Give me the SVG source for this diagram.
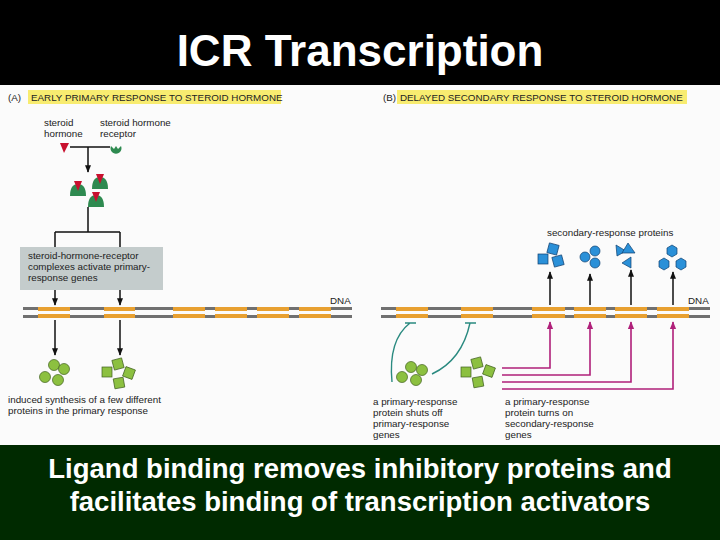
<svg xmlns="http://www.w3.org/2000/svg" width="720" height="540" viewBox="0 0 720 540">
<defs>
<style>
.t{font-family:"Liberation Sans",Arial,sans-serif;font-size:9.8px;fill:#222}
.h{font-family:"Liberation Sans",Arial,sans-serif;font-size:9.8px;fill:#222}
.w{font-family:"Liberation Sans",Arial,sans-serif;fill:#fff;font-weight:bold}
.g{fill:#e8a030}
.strand{fill:#707070}
.bk{stroke:#111;stroke-width:1.5;fill:none}
.mg{stroke:#b0207a;stroke-width:1.6;fill:none}
.tl{stroke:#2a8a80;stroke-width:1.4;fill:none}
.gc{fill:#8cc040;stroke:#406020;stroke-width:0.7}
.bc{fill:#2a90d8;stroke:#104070;stroke-width:0.7}
</style>
<marker id="a" viewBox="0 0 10 10" refX="9" refY="5" markerWidth="5" markerHeight="5" orient="auto"><path d="M0,1 L10,5 L0,9z" fill="#111"/></marker>
<marker id="m" viewBox="0 0 10 10" refX="9" refY="5" markerWidth="5" markerHeight="5" orient="auto"><path d="M0,1 L10,5 L0,9z" fill="#b0207a"/></marker>
</defs>
<rect width="720" height="540" fill="#000"/>
<rect y="445" width="720" height="95" fill="#002a00"/>
<rect x="0" y="85" width="720" height="360" fill="#fbfbfb"/>
<text class="w" x="360" y="66" font-size="44" text-anchor="middle">ICR Transcription</text>
<text class="w" x="360" y="478" font-size="27.5" text-anchor="middle" font-weight="normal" style="font-weight:600">Ligand binding removes inhibitory proteins and</text>
<text class="w" x="360" y="511" font-size="27.5" text-anchor="middle" style="font-weight:600">facilitates binding of transcription activators</text>

<g id="panelA">
<text class="h" x="8" y="101">(A)</text>
<rect x="28" y="90" width="253" height="14" fill="#f8ec70"/>
<text class="h" x="31" y="101">EARLY PRIMARY RESPONSE TO STEROID HORMONE</text>
<text class="t" x="44" y="126">steroid</text><text class="t" x="44" y="137">hormone</text>
<text class="t" x="100" y="126">steroid hormone</text><text class="t" x="100" y="137">receptor</text>
<path d="M60,143 L69,143 L64,153z" fill="#c8102e"/>
<path d="M111,146 a5.5,5.5 0 1 0 10,0 l-3,3 l-2,-3 l-2,3z" fill="#2e8a50"/>
<g id="complexes">
<path d="M70,196 q0,-12 8,-12 q8,0 8,12z" fill="#2e8a50"/><path d="M74,181 L82,181 L78,191z" fill="#c8102e"/>
<path d="M92,189 q0,-12 8,-12 q8,0 8,12z" fill="#2e8a50"/><path d="M96,174 L104,174 L100,184z" fill="#c8102e"/>
<path d="M88,207 q0,-12 8,-12 q8,0 8,12z" fill="#2e8a50"/><path d="M92,192 L100,192 L96,202z" fill="#c8102e"/>
</g>
<rect x="20" y="247" width="143" height="43" fill="#c4cccc"/>
<text class="t" x="28" y="259">steroid-hormone-receptor</text>
<text class="t" x="28" y="270">complexes activate primary-</text>
<text class="t" x="28" y="281">response genes</text>
<g id="greenA">
<circle class="gc" cx="54" cy="365" r="5.5"/><circle class="gc" cx="64" cy="369" r="5.5"/><circle class="gc" cx="45" cy="377" r="5.5"/><circle class="gc" cx="58" cy="380" r="5.5"/>
<rect class="gc" x="102" y="367" width="10" height="10"/><rect class="gc" x="113" y="359" width="10" height="10" transform="rotate(-15 118 364)"/><rect class="gc" x="124" y="368" width="10" height="10" transform="rotate(20 129 373)"/><rect class="gc" x="114" y="378" width="10" height="10" transform="rotate(-10 119 383)"/>
</g>
<text class="t" x="8" y="403">induced synthesis of a few different</text>
<text class="t" x="8" y="414">proteins in the primary response</text>
</g>

<g id="panelB">
<text class="h" x="383" y="101">(B)</text>
<rect x="397" y="90" width="290" height="14" fill="#f8ec70"/>
<text class="h" x="400" y="101">DELAYED SECONDARY RESPONSE TO STEROID HORMONE</text>
<text class="t" x="547" y="236">secondary-response proteins</text>
<g id="blue">
<rect class="bc" x="538" y="254" width="10" height="10"/><rect class="bc" x="548" y="244" width="10" height="10" transform="rotate(15 553 249)"/><rect class="bc" x="553" y="256" width="10" height="10" transform="rotate(-15 558 261)"/>
<circle class="bc" cx="585" cy="257" r="5"/><circle class="bc" cx="595" cy="251" r="5"/><circle class="bc" cx="595" cy="263" r="5"/>
<path class="bc" d="M616,245 L626,251 L617,256z"/><path class="bc" d="M628,243 L635,253 L622,253z"/><path class="bc" d="M631,257 L631,268 L622,263z"/>
<polygon class="bc" points="672,245 677,248 677,254 672,257 667,254 667,248"/>
<polygon class="bc" points="664,258 669,261 669,267 664,270 659,267 659,261"/>
<polygon class="bc" points="681,258 686,261 686,267 681,270 676,267 676,261"/>
</g>
<g id="greenB">
<circle class="gc" cx="411" cy="367" r="5.5"/><circle class="gc" cx="422" cy="370" r="5.5"/><circle class="gc" cx="402" cy="377" r="5.5"/><circle class="gc" cx="416" cy="380" r="5.5"/>
<rect class="gc" x="461" y="367" width="10" height="10"/><rect class="gc" x="472" y="358" width="10" height="10" transform="rotate(-15 477 363)"/><rect class="gc" x="484" y="366" width="10" height="10" transform="rotate(20 489 371)"/><rect class="gc" x="473" y="377" width="10" height="10" transform="rotate(-10 478 382)"/>
</g>
<text class="t" x="373" y="405">a primary-response</text><text class="t" x="373" y="416">protein shuts off</text><text class="t" x="373" y="427">primary-response</text><text class="t" x="373" y="438">genes</text>
<text class="t" x="505" y="405">a primary-response</text><text class="t" x="505" y="416">protein turns on</text><text class="t" x="505" y="427">secondary-response</text><text class="t" x="505" y="438">genes</text>
</g>

<g id="dna">
<rect class="strand" x="23" y="307" width="329" height="3"/><rect class="strand" x="23" y="315" width="329" height="3"/>
<rect class="strand" x="381" y="307" width="329" height="3"/><rect class="strand" x="381" y="315" width="329" height="3"/>
<g class="g">
<rect x="38" y="307" width="32" height="11"/><rect x="104" y="307" width="31" height="11"/><rect x="173" y="307" width="32" height="11"/><rect x="215" y="307" width="32" height="11"/><rect x="257" y="307" width="32" height="11"/><rect x="299" y="307" width="32" height="11"/>
<rect x="396" y="307" width="32" height="11"/><rect x="461" y="307" width="32" height="11"/><rect x="532" y="307" width="33" height="11"/><rect x="574" y="307" width="32" height="11"/><rect x="615" y="307" width="32" height="11"/><rect x="657" y="307" width="32" height="11"/>
</g>
<rect x="23" y="311" width="329" height="3" fill="#fbfbfb"/>
<rect x="381" y="311" width="329" height="3" fill="#fbfbfb"/>
<text class="t" x="330" y="304">DNA</text><text class="t" x="688" y="304">DNA</text>
</g>

<g id="connectors">
<path class="bk" d="M70,147 H110"/>
<path class="bk" d="M88,147 V172" marker-end="url(#a)"/>
<path class="bk" d="M88,207 V232 M55,232 H120 M55,232 V247 M120,232 V247"/>
<path class="bk" d="M55,290 V305" marker-end="url(#a)"/>
<path class="bk" d="M120,290 V305" marker-end="url(#a)"/>
<path class="bk" d="M55,320 V355" marker-end="url(#a)"/>
<path class="bk" d="M120,320 V355" marker-end="url(#a)"/>
<path class="bk" d="M550,305 V272" marker-end="url(#a)"/>
<path class="bk" d="M590,305 V274" marker-end="url(#a)"/>
<path class="bk" d="M631,305 V270" marker-end="url(#a)"/>
<path class="bk" d="M673,305 V272" marker-end="url(#a)"/>
<path class="mg" d="M502,368 H550 V322" marker-end="url(#m)"/>
<path class="mg" d="M502,375 H590 V322" marker-end="url(#m)"/>
<path class="mg" d="M502,382 H631 V322" marker-end="url(#m)"/>
<path class="mg" d="M502,389 H673 V322" marker-end="url(#m)"/>
<path class="tl" d="M405,323 H416 M410,323 Q388,340 392,382"/>
<path class="tl" d="M465,323 H476 M470,323 Q462,360 432,374"/>
</g>
</svg>
